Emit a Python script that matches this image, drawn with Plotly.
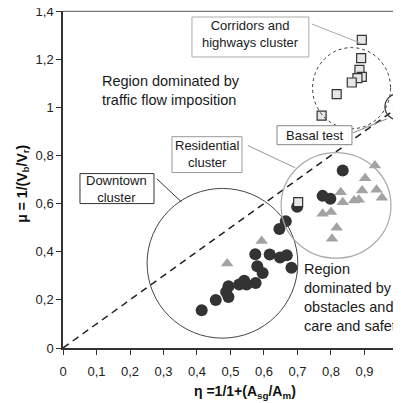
import plotly.graph_objects as go

# ---------------- data ----------------
circle_x = [0.835, 0.775, 0.798, 0.699, 0.665, 0.646, 0.574, 0.617, 0.648, 0.668, 0.682,
            0.580, 0.596, 0.575, 0.541, 0.526, 0.548, 0.494, 0.487, 0.494, 0.456, 0.414]
circle_y = [0.737, 0.632, 0.620, 0.587, 0.527, 0.494, 0.389, 0.388, 0.376, 0.385, 0.333,
            0.340, 0.312, 0.270, 0.279, 0.264, 0.264, 0.257, 0.233, 0.212, 0.199, 0.157]

tri_x = [0.931, 0.902, 0.936, 0.893, 0.829, 0.952, 0.883, 0.869, 0.835, 0.775, 0.800,
         0.817, 0.803, 0.593, 0.490]
tri_y = [0.758, 0.705, 0.657, 0.654, 0.647, 0.624, 0.616, 0.613, 0.605, 0.558, 0.565,
         0.500, 0.454, 0.445, 0.351]

sq_x = [0.892, 0.890, 0.885, 0.892, 0.879, 0.862, 0.817, 0.772, 1.005, 0.702]
sq_y = [1.280, 1.204, 1.155, 1.126, 1.121, 1.103, 1.055, 0.965, 1.151, 0.606]

basal_x = [1.0]
basal_y = [1.0]

diag_x = [0.0, 1.0]
diag_y = [0.0, 1.0]

x_ticks = [0, 0.1, 0.2, 0.3, 0.4, 0.5, 0.6, 0.7, 0.8, 0.9, 1.0]
x_labels = ["0", "0,1", "0,2", "0,3", "0,4", "0,5", "0,6", "0,7", "0,8", "0,9", "1"]
y_ticks = [0, 0.2, 0.4, 0.6, 0.8, 1.0, 1.2, 1.4]
y_labels = ["0", "0,2", "0,4", "0,6", "0,8", "1", "1,2", "1,4"]

FONT = "Liberation Sans, Arial, sans-serif"

fig = go.Figure()

fig.add_trace(go.Scatter(x=diag_x, y=diag_y, mode="lines",
                         line=dict(color="#222222", width=1.5, dash="7px,5px"),
                         hoverinfo="skip", showlegend=False))
fig.add_trace(go.Scatter(x=tri_x, y=tri_y, mode="markers",
                         marker=dict(symbol="triangle-up", size=11, color="#a3a3a3",
                                     line=dict(width=0)), showlegend=False))
fig.add_trace(go.Scatter(x=circle_x, y=circle_y, mode="markers",
                         marker=dict(symbol="circle", size=12, color="#333333",
                                     line=dict(width=0)), showlegend=False))
fig.add_trace(go.Scatter(x=sq_x, y=sq_y, mode="markers", cliponaxis=False,
                         marker=dict(symbol="square", size=9, color="#e6e6e6",
                                     line=dict(width=1.2, color="#333333")), showlegend=False))
fig.add_trace(go.Scatter(x=basal_x, y=basal_y, mode="markers", cliponaxis=False,
                         marker=dict(symbol="square", size=9, color="#000000",
                                     line=dict(width=1, color="#000000")), showlegend=False))

shapes = []
# cluster circles
shapes.append(dict(type="circle", xref="x", yref="y", x0=0.251, x1=0.701, y0=0.041, y1=0.663,
                   line=dict(color="#444444", width=1)))
shapes.append(dict(type="circle", xref="x", yref="y", x0=0.651, x1=0.979, y0=0.373, y1=0.812,
                   line=dict(color="#aaaaaa", width=1.2)))
shapes.append(dict(type="circle", xref="x", yref="y", x0=0.745, x1=0.978, y0=0.911, y1=1.248,
                   line=dict(color="#333333", width=1, dash="dot")))
shapes.append(dict(type="circle", xref="x", yref="y", x0=0.961, x1=1.039, y0=0.948, y1=1.056,
                   line=dict(color="#333333", width=1.2)))
# leader lines
shapes.append(dict(type="line", xref="x", yref="y", x0=0.280, y0=0.703, x1=0.354, y1=0.606,
                   line=dict(color="#333333", width=1)))
shapes.append(dict(type="line", xref="x", yref="y", x0=0.552, y0=0.841, x1=0.6925, y1=0.749,
                   line=dict(color="#999999", width=1)))
shapes.append(dict(type="line", xref="x", yref="y", x0=0.743, y0=1.346, x1=0.887, y1=1.267,
                   line=dict(color="#aaaaaa", width=1)))
shapes.append(dict(type="line", xref="x", yref="y", x0=0.866, y0=0.894, x1=0.967, y1=0.952,
                   line=dict(color="#888888", width=1)))
# label boxes
shapes.append(dict(type="rect", xref="x", yref="y", x0=0.0507, x1=0.2716, y0=0.600, y1=0.7246,
                   fillcolor="white", line=dict(color="#333333", width=1)))
shapes.append(dict(type="rect", xref="x", yref="y", x0=0.385, x1=0.734, y0=1.209, y1=1.375,
                   fillcolor="white", line=dict(color="#aaaaaa", width=1)))
shapes.append(dict(type="rect", xref="x", yref="y", x0=0.3254, x1=0.5343, y0=0.7288, y1=0.8778,
                   fillcolor="white", line=dict(color="#999999", width=1)))
shapes.append(dict(type="rect", xref="x", yref="y", x0=0.6388, x1=0.8627, y0=0.8447, y1=0.9234,
                   fillcolor="white", line=dict(color="#888888", width=1)))
# top frame line
shapes.append(dict(type="line", xref="paper", yref="paper", x0=0, x1=1.05, y0=0.999, y1=0.999,
                   line=dict(color="#777777", width=1.3)))

annotations = []
def txt(x, y, t, size=13, xanchor="center", align="center", **kw):
    annotations.append(dict(x=x, y=y, xref="x", yref="y", text=t, showarrow=False,
                            xanchor=xanchor, yanchor="middle", align=align,
                            font=dict(family=FONT, size=size, color="#1a1a1a"), **kw))

txt(0.160, 0.660, "Downtown<br>cluster")
txt(0.560, 1.304, "Corridors and<br>highways cluster")
txt(0.430, 0.805, "Residential<br>cluster")
txt(0.751, 0.884, "Basal test")
txt(0.110, 1.068, "Region dominated by<br>traffic flow imposition", size=14.5,
    xanchor="left", align="left")
txt(0.7125, 0.211, "Region<br>dominated by<br>obstacles and<br>care and safety", size=14.5,
    xanchor="left", align="left")

annotations.append(dict(x=0.538, y=-0.130, xref="paper", yref="paper",
                        text="<b>η =1/1+(A<sub>sg</sub>/A<sub>m</sub>)</b>", showarrow=False,
                        xanchor="center", yanchor="middle",
                        font=dict(family=FONT, size=14, color="#111111")))
annotations.append(dict(x=-0.121, y=0.488, xref="paper", yref="paper",
                        text="<b>μ = 1/(V<sub>b</sub>/V<sub>r</sub>)</b>", showarrow=False,
                        textangle=-90, xanchor="center", yanchor="middle",
                        font=dict(family=FONT, size=14, color="#111111")))

# The page body adds an 8 px margin; the figure is shifted accordingly and its
# right part (beyond x = 1) falls outside the window, as in the reference.
fig.update_layout(
    width=401, height=395,
    margin=dict(l=55, r=8, t=3, b=55, autoexpand=False),
    paper_bgcolor="white", plot_bgcolor="white",
    shapes=shapes, annotations=annotations,
    font=dict(family=FONT, size=13, color="#222222"),
    showlegend=False,
)
fig.update_xaxes(range=[0, 1.009], tickvals=x_ticks, ticktext=x_labels, automargin=False,
                 showgrid=False, zeroline=False, showline=True, linecolor="#333333",
                 linewidth=1.5, ticks="outside", ticklen=5, tickcolor="#333333",
                 ticklabeloverflow="allow",
                 tickfont=dict(family=FONT, size=13, color="#222222"), ticklabelstandoff=6)
fig.update_yaxes(range=[0, 1.4], tickvals=y_ticks, ticktext=y_labels, automargin=False,
                 showgrid=False, zeroline=False, showline=True, linecolor="#333333",
                 linewidth=1.5, ticks="outside", ticklen=5, tickcolor="#333333",
                 ticklabeloverflow="allow",
                 tickfont=dict(family=FONT, size=13, color="#222222"))

fig.write_html("out.html")
